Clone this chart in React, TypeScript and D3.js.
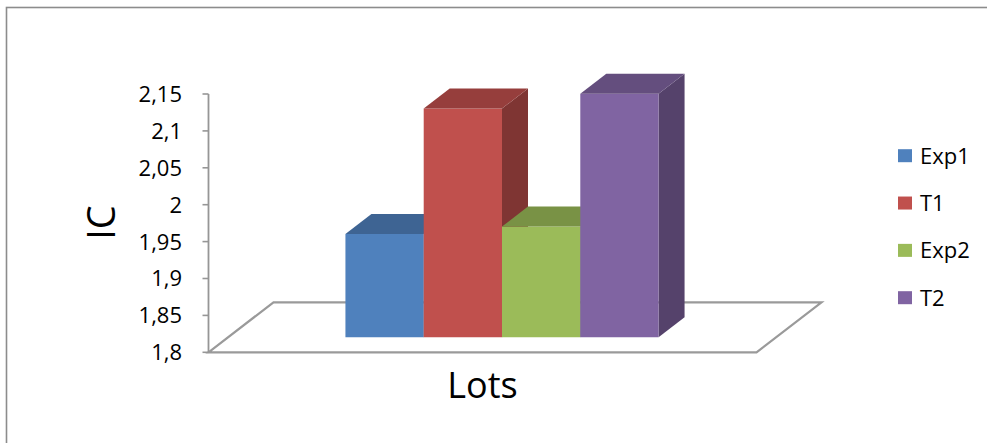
import React from "react";
import * as d3 from "d3";

// Series data
const categories = ["Lots"];
const seriesNames = ["Exp1", "T1", "Exp2", "T2"];
const seriesValues = [1.94, 2.11, 1.95, 2.13];
const seriesColors = ["#4F81BD", "#C0504D", "#9BBB59", "#8064A2"];
const yTicks = [1.8, 1.85, 1.9, 1.95, 2, 2.05, 2.1, 2.15];

const W = 987;
const H = 443;
const FONT = "'Open Sans', 'Liberation Sans', sans-serif";

// Oblique projection of the 3D floor
const DEPTH_DX = 65;
const DEPTH_DY = -50;
const BAR_FRONT = 0.3;
const BAR_BACK = 0.7;

const locale = d3.formatLocale({
  decimal: ",",
  thousands: ".",
  grouping: [3],
  currency: ["", " €"],
});
const fmt = locale.format(".3~g");

export default function App() {
  const yScale = d3.scaleLinear().domain([1.8, 2.15]).range([352.3, 94]);
  const xOuter = d3
    .scaleBand<string>()
    .domain(categories)
    .range([208.5, 756.5])
    .paddingInner(0)
    .paddingOuter(0.375);
  const xInner = d3
    .scaleBand<string>()
    .domain(seriesNames)
    .range([0, xOuter.bandwidth()]);

  const yMin = yScale.domain()[0];
  const [fx0, fx1] = xOuter.range();

  const proj = (wx: number, v: number, d: number): [number, number] => [
    wx + d * DEPTH_DX,
    yScale(v) + d * DEPTH_DY,
  ];
  const poly = (pts: [number, number][]) =>
    pts.map((p) => `${p[0].toFixed(2)},${p[1].toFixed(2)}`).join(" ");

  const floorPts = [
    proj(fx0, yMin, 0),
    proj(fx1, yMin, 0),
    proj(fx1, yMin, 1),
    proj(fx0, yMin, 1),
  ];

  const legendY = d3
    .scalePoint<string>()
    .domain(seriesNames)
    .range([155.7, 297.7]);

  return (
    <svg
      width={W}
      height={H}
      style={{ position: "absolute", left: 0, top: 0, background: "#fff" }}
      fontFamily={FONT}
    >
      <rect x={0} y={0} width={W} height={H} fill="#fff" />
      {/* chart frame */}
      <rect
        x={6.5}
        y={7.5}
        width={W + 50}
        height={H + 50}
        fill="none"
        stroke="#8c8c8c"
        strokeWidth={1.6}
      />

      {/* floor */}
      <polygon
        points={poly(floorPts)}
        fill="none"
        stroke="#9a9a9a"
        strokeWidth={2.2}
        strokeLinejoin="miter"
      />

      {/* value axis */}
      <line
        x1={fx0}
        x2={fx0}
        y1={yScale(yTicks[0])}
        y2={yScale(yTicks[yTicks.length - 1])}
        stroke="#969696"
        strokeWidth={1.8}
      />
      {yTicks.map((t) => (
        <g key={t}>
          <line
            x1={fx0 - 6}
            x2={fx0}
            y1={yScale(t)}
            y2={yScale(t)}
            stroke="#969696"
            strokeWidth={1.6}
          />
          <text
            x={182}
            y={yScale(t)}
            dy="0.36em"
            textAnchor="end"
            fontSize={22}
            fill="#000"
          >
            {fmt(t)}
          </text>
        </g>
      ))}

      {/* bars */}
      {categories.map((cat) =>
        seriesNames.map((name, i) => {
          const v = seriesValues[i];
          const wx0 = (xOuter(cat) ?? 0) + (xInner(name) ?? 0);
          const wx1 = wx0 + xInner.bandwidth();
          const base = d3.color(seriesColors[i])!;
          const front = [
            proj(wx0, yMin, BAR_FRONT),
            proj(wx1, yMin, BAR_FRONT),
            proj(wx1, v, BAR_FRONT),
            proj(wx0, v, BAR_FRONT),
          ];
          const top = [
            proj(wx0, v, BAR_FRONT),
            proj(wx1, v, BAR_FRONT),
            proj(wx1, v, BAR_BACK),
            proj(wx0, v, BAR_BACK),
          ];
          const side = [
            proj(wx1, yMin, BAR_FRONT),
            proj(wx1, yMin, BAR_BACK),
            proj(wx1, v, BAR_BACK),
            proj(wx1, v, BAR_FRONT),
          ];
          return (
            <g key={cat + name}>
              <polygon points={poly(side)} fill={base.darker(1.16).toString()} />
              <polygon points={poly(front)} fill={base.toString()} />
              <polygon points={poly(top)} fill={base.darker(0.7).toString()} />
            </g>
          );
        })
      )}

      {/* axis titles */}
      <text
        transform="translate(115,222.5) rotate(-90)"
        textAnchor="middle"
        fontSize={38}
        fill="#000"
      >
        IC
      </text>
      <text x={482.5} y={398} textAnchor="middle" fontSize={36} fill="#000">
        {categories[0]}
      </text>

      {/* legend */}
      {seriesNames.map((name, i) => (
        <g key={name} transform={`translate(898,${legendY(name)})`}>
          <rect x={0} y={-6.5} width={14} height={13} fill={seriesColors[i]} />
          <text x={22} y={0} dy="0.36em" fontSize={22} fill="#000">
            {name}
          </text>
        </g>
      ))}
    </svg>
  );
}
